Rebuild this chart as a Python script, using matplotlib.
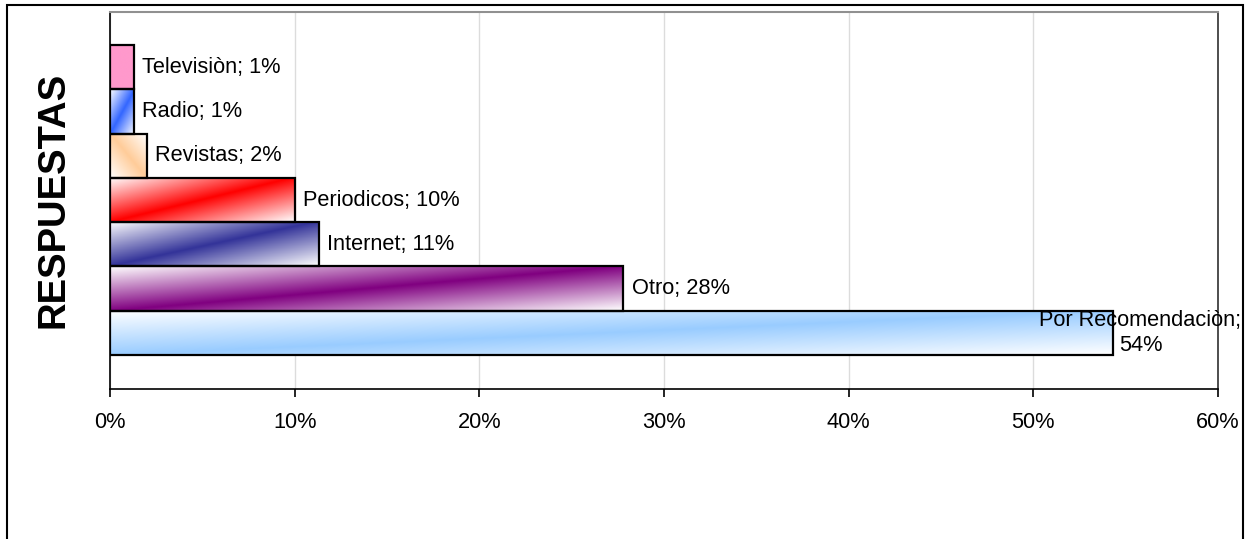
import numpy as np
import matplotlib.pyplot as plt
from matplotlib.patches import Rectangle
from matplotlib.colors import to_rgb

plt.rcParams['font.family'] = ['Liberation Sans', 'DejaVu Sans']

# bottom to top
categories = ['Por Recomendaciòn', 'Otro', 'Internet', 'Periodicos', 'Revistas', 'Radio', 'Televisiòn']
values = [54.3, 27.8, 11.3, 10.0, 2.0, 1.3, 1.3]
colors = ['#99CCFF', '#800080', '#333399', '#FF0000', '#FFCC99', '#3366FF', '#FF99CC']
styles = ['diag', 'diag', 'diag', 'diag', 'anti', 'diag', 'solid']
xticks = [0, 10, 20, 30, 40, 50, 60]


def gradient(color, style, n=64):
    u = np.linspace(0, 1, n)[None, :]
    v = np.linspace(1, 0, n)[:, None]  # image rows go top -> bottom
    if style == 'solid':
        t = np.ones((n, n))
    elif style == 'diag':
        t = 1 - np.abs(v - u)
    else:
        t = 1 - np.abs(v + u - 1)
    c = np.array(to_rgb(color))
    img = 1 - t[..., None] * (1 - c)
    return img


fig = plt.figure(figsize=(12.52, 5.39), dpi=100)
ax = fig.add_axes([110 / 1252, 1 - 389 / 539, (1218 - 110) / 1252, (389 - 12) / 539])

for i, (val, col, st) in enumerate(zip(values, colors, styles)):
    ax.imshow(gradient(col, st), extent=(0, val, i - 0.5, i + 0.5),
              aspect='auto', interpolation='bilinear', zorder=2)

ax.barh(range(len(values)), values, height=1.0, facecolor='none',
        edgecolor='black', linewidth=1.6, zorder=3)

fs = 15.7
for i, (cat, val) in enumerate(zip(categories, values)):
    if i == 0:
        ax.annotate(f'{cat};\n{round(val)}%', xy=(val, i), xytext=(20, 0),
                    textcoords='offset points', ha='center', va='center',
                    multialignment='center', fontsize=fs, zorder=4,
                    linespacing=1.25, annotation_clip=False)
    else:
        ax.annotate(f'{cat}; {round(val)}%', xy=(val, i), xytext=(6, 0),
                    textcoords='offset points', ha='left', va='center',
                    fontsize=fs, zorder=4)

ax.set_xlim(0, 60)
ax.set_ylim(-1.267, 7.245)
ax.set_xticks(xticks)
ax.set_xticklabels([f'{t}%' for t in xticks], fontsize=fs)
ax.set_yticks([])
ax.tick_params(axis='x', length=6, width=1.2, pad=10.5, direction='out')
ax.grid(axis='x', color='#DCDCDC', linewidth=1, zorder=0)
ax.set_axisbelow(True)

ax.spines['left'].set_linewidth(1.2)
ax.spines['bottom'].set_linewidth(1.2)
ax.spines['top'].set_color('#909090')
ax.spines['top'].set_linewidth(1.5)
ax.spines['right'].set_color('#303030')
ax.spines['right'].set_linewidth(1.2)

fig.text(54 / 1252, 1 - 200 / 539, 'RESPUESTAS', rotation=90, fontsize=27.5,
         fontweight='bold', ha='center', va='center')

fig.patches.append(Rectangle((7 / 1252, -0.1), (1243 - 7) / 1252, 1.1 - 5 / 539,
                             transform=fig.transFigure, fill=False,
                             edgecolor='black', linewidth=1.5))

fig.savefig('out.png', dpi=100)
